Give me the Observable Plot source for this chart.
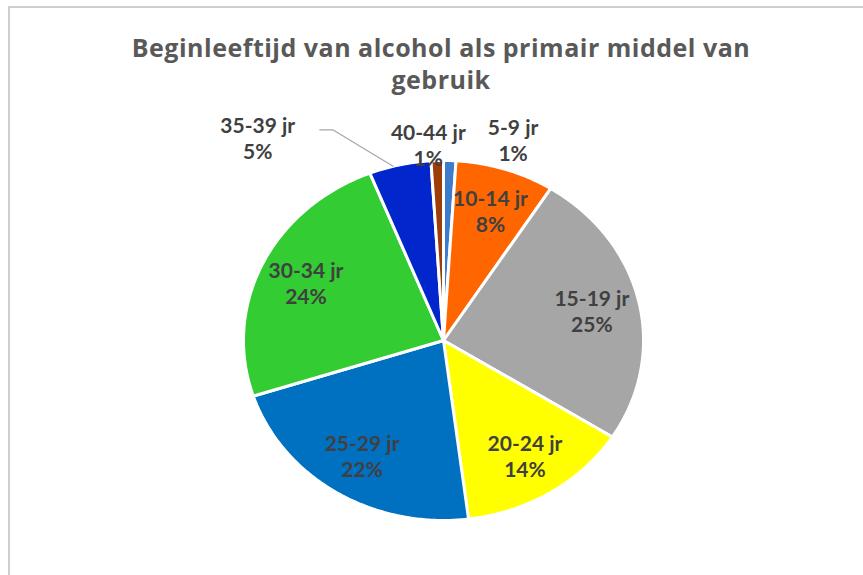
<!DOCTYPE html>
<html>
<head>
<meta charset="utf-8">
<script src="https://cdn.jsdelivr.net/npm/d3@7"></script>
<script src="https://cdn.jsdelivr.net/npm/@observablehq/plot@0.6"></script>
<style>
  html, body { margin: 0; padding: 0; background: #fff; }
  #wrap { position: relative; width: 863px; height: 575px; overflow: hidden; background: #fff; }
  #frame { position: absolute; left: 8px; top: 6px; right: -4px; bottom: -4px;
           border-left: 2px solid #cfcfcf; border-top: 2px solid #cfcfcf; pointer-events: none; z-index: 2; }
  #title { position: relative; margin: 0; padding: 31px 0 0 19px; height: 65px;
           font-family: "Open Sans", Lato, sans-serif; font-weight: bold; font-size: 25px;
           letter-spacing: 0.5px; line-height: 32px; color: #595959; text-align: center; }
  #chart { position: relative; }
  #chart svg { display: block; overflow: visible; }
</style>
</head>
<body>
<div id="wrap">
  <div id="frame"></div>
  <div id="title">Beginleeftijd van alcohol als primair middel van<br>gebruik</div>
  <div id="chart"></div>
</div>
<script>
// ---- data ----
const ages = ["5-9 jr", "10-14 jr", "15-19 jr", "20-24 jr", "25-29 jr", "30-34 jr", "35-39 jr", "40-44 jr"];
const percentages = [1, 8, 25, 14, 22, 24, 5, 1];
const sliceColors = ["#3d7ccd", "#ff6600", "#a6a6a6", "#ffff00", "#0070c0", "#33cc33", "#0026cc", "#9c3d0a"];

// ---- layout helpers ----
const rows = ages.map((age, i) => ({age, pct: percentages[i]}));
const arcs = d3.pie().sort(null).value(d => d.pct).startAngle(0).endAngle(2 * Math.PI)(rows);

// angle measured clockwise from 12 o'clock; y up
const pt = (a, r) => ({x: r * Math.sin(a), y: r * Math.cos(a)});

const polys = [];
arcs.forEach(a => {
  polys.push({age: a.data.age, ...pt(0, 0)});
  const n = Math.max(4, Math.ceil((a.endAngle - a.startAngle) / 0.01));
  for (let k = 0; k <= n; k++) {
    const t = a.startAngle + (a.endAngle - a.startAngle) * k / n;
    polys.push({age: a.data.age, ...pt(t, 1)});
  }
});

// label placement (inside: along mid-angle; outside for small slices)
const deg = Math.PI / 180;
const outside = {
  "5-9 jr":   {r: 1.17, a: 17.3 * deg},
  "40-44 jr": {r: 1.09, a: -4.0 * deg},
  "35-39 jr": {r: 1.46, a: -39.5 * deg}
};
const labels = arcs.map(a => {
  const mid = (a.startAngle + a.endAngle) / 2;
  const o = outside[a.data.age];
  const p = o ? pt(o.a, o.r) : pt(mid, 0.76);
  return {text: `${a.data.age}\n${a.data.pct}%`, ...p, age: a.data.age, mid};
});

// leader line for 35-39 jr
const l39 = labels.find(d => d.age === "35-39 jr");
const leader = [
  pt(l39.mid - 2 * deg, 1.0),
  {x: l39.x + 0.375, y: l39.y + 0.044},
  {x: l39.x + 0.31, y: l39.y + 0.044}
];

const chart = Plot.plot({
  width: 863,
  height: 479,
  marginLeft: 243,
  marginRight: 220,
  marginTop: 64,
  marginBottom: 55,
  x: {domain: [-1, 1], axis: null},
  y: {domain: [-1, 1], axis: null},
  color: {domain: ages, range: sliceColors},
  style: {background: "transparent"},
  marks: [
    Plot.line(polys, {x: "x", y: "y", z: "age", fill: "age", stroke: "#ffffff", strokeWidth: 3,
                      strokeLinejoin: "round", curve: "linear-closed"}),
    Plot.line(leader, {x: "x", y: "y", stroke: "#a6a6a6", strokeWidth: 1.2}),
    Plot.text(labels, {x: "x", y: "y", text: "text", fill: "#404040", fontSize: 21,
                       fontWeight: "bold", fontFamily: "Lato, 'Open Sans', sans-serif",
                       lineHeight: 1.24, textAnchor: "middle"})
  ]
});
document.getElementById("chart").appendChild(chart);
</script>
</body>
</html>
